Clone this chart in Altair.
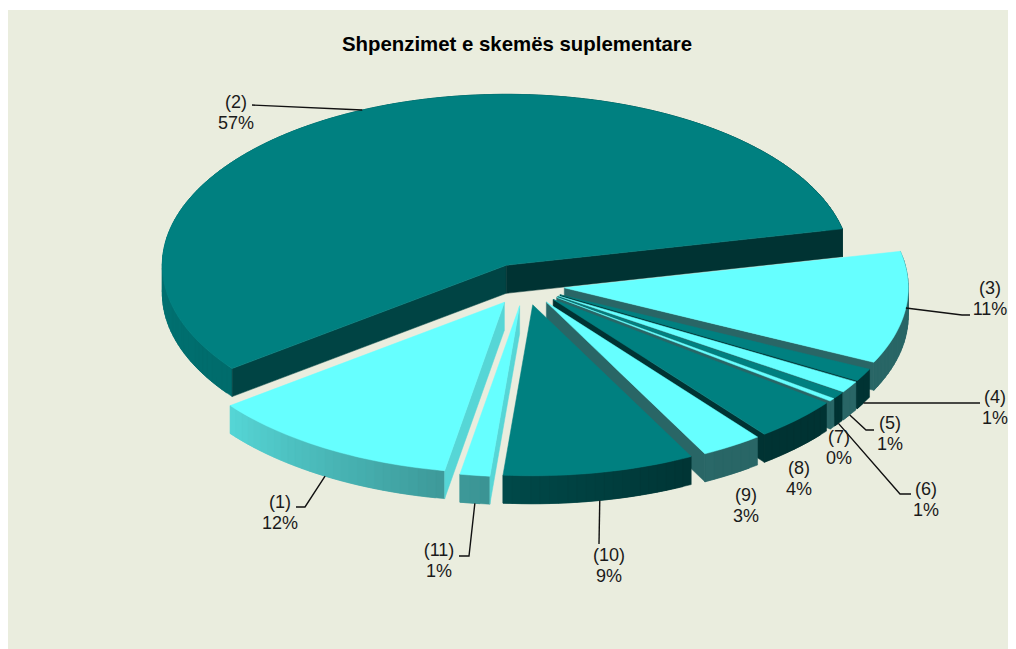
import math
import altair as alt

# ---- chart values ----
SLICE_NAMES = ["(1)", "(2)", "(3)", "(4)", "(5)", "(6)", "(7)", "(8)", "(9)", "(10)", "(11)"]
SHARES = [11.9, 56.9, 10.6, 1.2, 1.1, 0.6, 0.3, 4.1, 2.9, 9.0, 1.4]
SHOWN_PERCENT = ["12%", "57%", "11%", "1%", "1%", "1%", "0%", "4%", "3%", "9%", "1%"]
TITLE = "Shpenzimet e skemës suplementare"

# ---- styling / layout ----
BG = "#EAEDDE"
COLORS = [(102, 255, 255), (0, 128, 128)]
OX, OY = 8, 10                 # page position of the plot origin
CX, CY = 525 - OX, 285.5 - OY  # pie centre
RX, RY = 344, 171              # top ellipse radii
DEPTH = 28
START_ANGLE = 260.0
EXPLODE = [0.115, 0.13, 0.115, 0.115, 0.115, 0.115, 0.115, 0.115, 0.115, 0.115, 0.12]
DRAW_ORDER = [1, 2, 3, 4, 5, 6, 7, 8, 9, 10, 0]
# elbow points and first-line label centres, page pixels
LAYOUT = {
    "(1)": ([(305, 507), (296, 507)], (280, 503)),
    "(2)": ([(252, 105)], (236, 103)),
    "(3)": ([(962, 315), (970, 315)], (990, 289)),
    "(4)": ([(980, 403)], (995, 398)),
    "(5)": ([(866, 430), (874, 430)], (890, 424)),
    "(6)": ([(900, 494), (911, 494)], (926, 490)),
    "(7)": ([], (839, 438)),
    "(8)": ([], (799, 469)),
    "(9)": ([], (746, 496)),
    "(10)": ([(599, 544)], (609, 556)),
    "(11)": ([(469, 556), (459, 556)], (439, 551)),
}
# leader starts on the top rim (False) or at the foot of the wall (True)
LEADER_FOOT = {"(1)": True, "(2)": False, "(3)": False, "(4)": True, "(5)": True,
               "(6)": True, "(10)": True, "(11)": True}

ANG_KNOTS = [(0, 0.4), (170, 0.9), (217, 0.84), (260, 0.6), (300, 0.4), (400, 0.4)]


def shade(angle):
    a = angle % 360
    for (a0, f0), (a1, f1) in zip(ANG_KNOTS, ANG_KNOTS[1:]):
        if a0 <= a <= a1:
            return f0 + (f1 - f0) * (a - a0) / (a1 - a0)
    return 0.4


def hexcol(rgb, f=1.0):
    return "#%02x%02x%02x" % tuple(int(round(c * f)) for c in rgb)


def poly(points, color):
    pts = [list(p) for p in points] + [list(points[0])]
    return {"type": "Feature", "properties": {"color": color},
            "geometry": {"type": "Polygon", "coordinates": [pts]}}


# slice angles: going down from START_ANGLE
spans = []
a = START_ANGLE
for s in SHARES:
    spans.append((a, a - s * 3.6))
    a -= s * 3.6


def apex(i):
    a0, a1 = spans[i]
    mid = math.radians((a0 + a1) / 2)
    return CX + EXPLODE[i] * RX * math.cos(mid), CY - EXPLODE[i] * RY * math.sin(mid)


def rim(i, ang):
    ax, ay = apex(i)
    t = math.radians(ang)
    return ax + RX * math.cos(t), ay - RY * math.sin(t)


def down(p):
    return (p[0], p[1] + DEPTH)


features = []
for i in DRAW_ORDER:
    cyan = i % 2 == 0
    base = COLORS[0] if cyan else COLORS[1]
    a0, a1 = spans[i]
    n = max(2, int(abs(a0 - a1) / 1.5))
    angs = [a0 + (a1 - a0) * k / n for k in range(n + 1)]
    rimpts = [rim(i, t) for t in angs]
    ap = apex(i)
    # outer wall in narrow strips that overlap the next one
    for k in range(n):
        p, q = rimpts[k], rimpts[min(k + 2, n)]
        f = shade((angs[k] + angs[k + 1]) / 2)
        features.append(poly([p, q, down(q), down(p)], hexcol(base, f)))
    # cut walls, only where they face the viewer
    if math.cos(math.radians(a0)) < 0:
        e = rimpts[0]
        features.append(poly([ap, e, down(e), down(ap)], hexcol(base, 0.84 if cyan else 0.53)))
    if math.cos(math.radians(a1)) > 0:
        e = rimpts[-1]
        features.append(poly([ap, e, down(e), down(ap)], hexcol(base, 0.4)))
    features.append(poly([ap] + rimpts, hexcol(base)))

leaders = []
labels = []
for i, name in enumerate(SLICE_NAMES):
    pts, (lx, ly) = LAYOUT[name]
    labels.append({"t": name + "\n" + SHOWN_PERCENT[i], "x": lx - OX, "y": ly - OY})
    if not pts:
        continue
    a0, a1 = spans[i]
    sx, sy = rim(i, (a0 + a1) / 2)
    if LEADER_FOOT[name]:
        sy += DEPTH
    line = [[sx, sy]] + [[px - OX, py - OY] for px, py in pts]
    leaders.append({"type": "Feature", "properties": {},
                    "geometry": {"type": "LineString", "coordinates": line}})

proj = dict(type="identity", scale=1, translate=[0, 0])

pie = alt.Chart(alt.Data(values=features)).mark_geoshape(strokeWidth=0.5, opacity=1).encode(
    fill=alt.Fill("properties.color:N", scale=None),
    stroke=alt.Stroke("properties.color:N", scale=None),
).project(**proj)

lead = alt.Chart(alt.Data(values=leaders)).mark_geoshape(
    filled=False, stroke="#111111", strokeWidth=1.4
).project(**proj)

text = alt.Chart(alt.Data(values=labels)).mark_text(
    font="Liberation Sans", fontSize=18, color="#1a1a1a", lineBreak="\n",
    lineHeight=20.5, align="center", baseline="middle",
).encode(
    x=alt.X("x:Q", scale=None, axis=None),
    y=alt.Y("y:Q", scale=None, axis=None),
    text="t:N",
)

chart = alt.layer(pie, lead, text).properties(
    width=1000, height=639,
    padding={"left": 0, "top": 2, "right": 0, "bottom": 0},
    autosize=alt.AutoSizeParams(type="none"),
    background="white",
    title=alt.TitleParams(TITLE, font="Liberation Sans", fontSize=20.4, fontWeight="bold",
                          color="#000000", anchor="middle", offset=-45, dx=9),
).configure_view(fill=BG, stroke=None)

chart.save("out.html", embed_options={"renderer": "svg", "actions": False})
